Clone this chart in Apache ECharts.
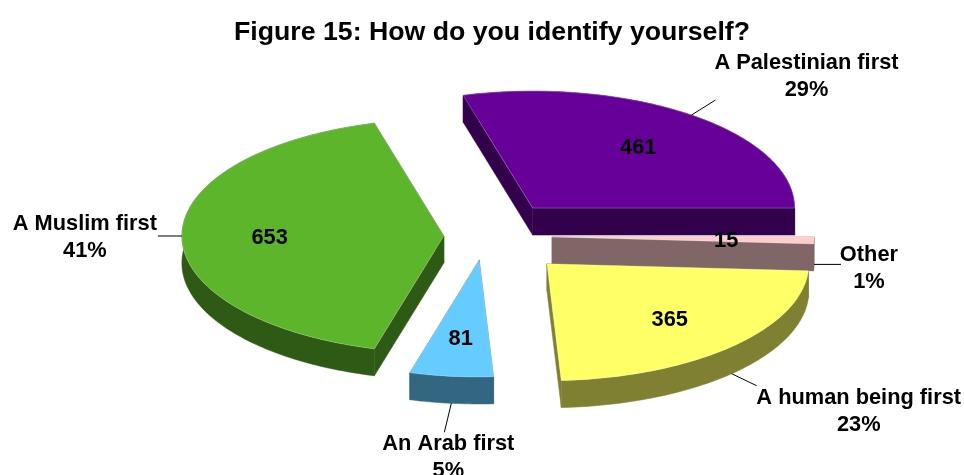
<!DOCTYPE html>
<html>
<head>
<meta charset="utf-8">
<style>html,body{margin:0;padding:0;background:#fff}#c{width:964px;height:475px}</style>
<script src="https://cdn.jsdelivr.net/npm/echarts@6/dist/echarts.min.js"></script>
</head>
<body>
<div id="c"></div>
<script>
const titleText = 'Figure 15: How do you identify yourself?';
const categories = ['A Palestinian first', 'Other', 'A human being first', 'An Arab first', 'A Muslim first'];
const values = [461, 15, 365, 81, 653];
const percentLabels = ['29%', '1%', '23%', '5%', '41%'];

const topColors = ['#660099', '#ffcccc', '#ffff66', '#66ccff', '#5cb52a'];
const wallColors = ['#33004c', '#806666', '#808033', '#336680', '#2e5a15'];
const explosion = [0.30, 0.256, 0.335, 0.206, 0.157];
const leaderDrop = [0, 24, 27, 27, 0];
const leaderOffset = [[24, -15], [27, 0], [25, 12], [-7, 29], [-24, 0]];
const labelOffset = [[91, -24], [28, 4], [102, 26], [4, 25], [-73, 1]];

const pie = { cx: 485, cy: 236, rx: 262, ry: 117, depth: 27, start: -15.37, valueAt: 0.665 };
const font = 'bold 21.8px "Liberation Sans", Arial, sans-serif';
const total = values.reduce((a, b) => a + b, 0);

function renderSlice(params, api) {
  const i = params.dataIndex;
  const before = values.slice(0, i).reduce((a, b) => a + b, 0);
  const a0 = (pie.start + before / total * 360) * Math.PI / 180;
  const a1 = a0 + api.value(0) / total * 2 * Math.PI;
  const mid = (a0 + a1) / 2;
  const ox = pie.cx + explosion[i] * pie.rx * Math.sin(mid);
  const oy = pie.cy - explosion[i] * pie.ry * Math.cos(mid);
  const at = (a, f, drop) => [ox + f * pie.rx * Math.sin(a), oy - f * pie.ry * Math.cos(a) + (drop || 0)];
  const arc = [];
  const steps = Math.max(4, Math.ceil((a1 - a0) / 0.02));
  for (let k = 0; k <= steps; k++) arc.push(at(a0 + (a1 - a0) * k / steps, 1));
  const down = p => [p[0], p[1] + pie.depth];
  const apex = [ox, oy];
  const first = arc[0], last = arc[arc.length - 1];
  const wall = wallColors[i];
  const poly = (points, fill, z2, stroke) => ({
    type: 'polygon', shape: { points }, silent: true, z2,
    style: { fill, stroke: stroke || fill, lineWidth: stroke ? 0.7 : 0.5 }
  });
  const children = [
    poly(arc.concat(arc.map(down).reverse()), wall, 1),
    poly([apex, first, down(first), down(apex)], wall, 1),
    poly([apex, last, down(last), down(apex)], wall, 1),
    poly([apex].concat(arc), topColors[i], 2, 'rgba(255,255,255,0.35)')
  ];
  const rim = at(mid, 1, leaderDrop[i]);
  const end = [rim[0] + leaderOffset[i][0], rim[1] + leaderOffset[i][1]];
  children.push({
    type: 'line', silent: true, z2: 3,
    shape: { x1: rim[0], y1: rim[1], x2: end[0], y2: end[1] },
    style: { stroke: '#000', lineWidth: 1 }
  });
  const v = at(mid, pie.valueAt, 1.5);
  children.push({
    type: 'text', silent: true, z2: 10,
    style: { text: String(api.value(0)), x: v[0], y: v[1], align: 'center', verticalAlign: 'middle', font, fill: '#000' }
  });
  children.push({
    type: 'text', silent: true, z2: 10,
    style: {
      text: categories[i] + '\n' + percentLabels[i],
      x: end[0] + labelOffset[i][0], y: end[1] + labelOffset[i][1],
      align: 'center', verticalAlign: 'middle', font, lineHeight: 27, fill: '#000'
    }
  });
  return { type: 'group', children };
}

const chart = echarts.init(document.getElementById('c'), null, { renderer: 'canvas' });
chart.setOption({
  animation: false,
  backgroundColor: '#fff',
  title: {
    text: titleText, left: 487, top: 14, textAlign: 'center',
    textStyle: { fontFamily: '"Liberation Sans", Arial, sans-serif', fontWeight: 'bold', fontSize: 26.7, color: '#000' }
  },
  series: [{
    type: 'custom',
    coordinateSystem: 'none',
    renderItem: renderSlice,
    data: values.map((v, i) => ({ name: categories[i], value: [v] }))
  }]
});
</script>
</body>
</html>
